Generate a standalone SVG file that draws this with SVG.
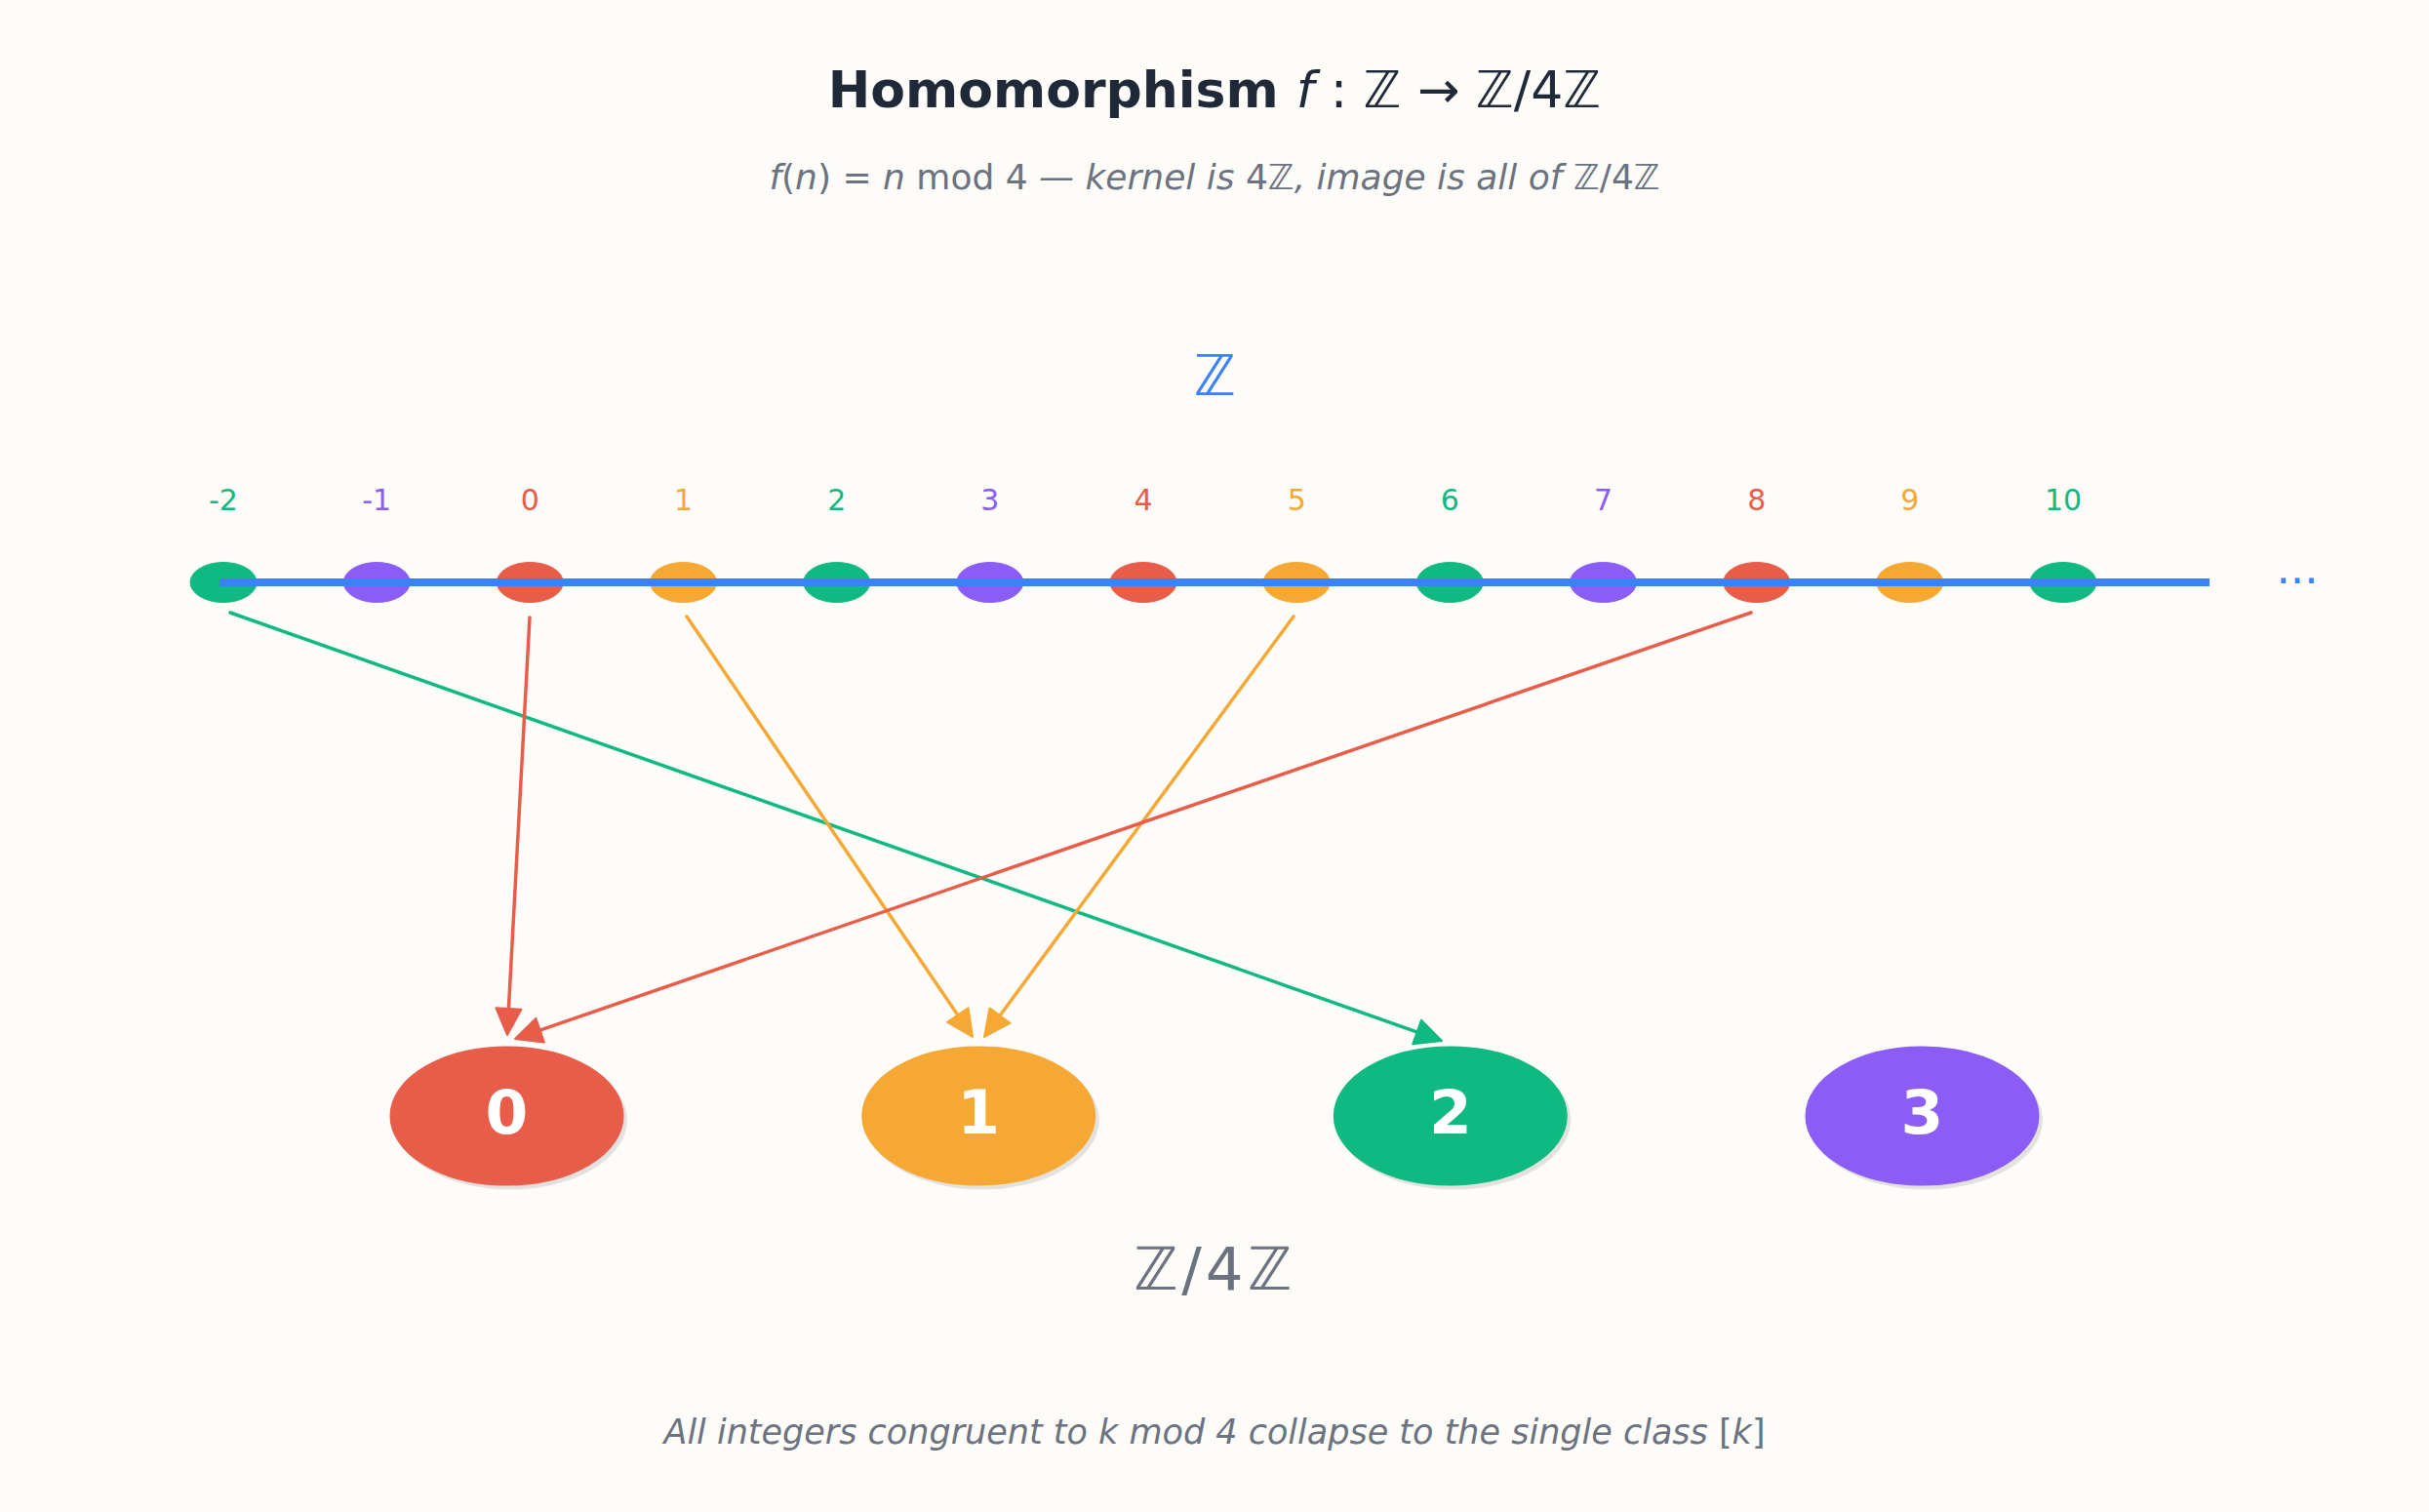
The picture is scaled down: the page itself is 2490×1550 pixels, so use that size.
<svg xmlns="http://www.w3.org/2000/svg" width="2490" height="1550" viewBox="0 0 2490 1550">
<style>
text{font-family:"DejaVu Sans","Liberation Sans",sans-serif}
.it{font-style:italic}
.num{font-size:30px;text-anchor:middle}
.dot{stroke:none}
.node-shadow{fill:#000;opacity:0.1}
.node-body{stroke:#ffffff;stroke-width:5}
.node-label{font-size:63px;font-weight:bold;fill:#ffffff;text-anchor:middle}
.conn{fill:none;stroke-width:3.5;stroke-linecap:round}
.red{fill:#e85d4a;stroke:#e85d4a}
.orange{fill:#f5a834;stroke:#f5a834}
.green{fill:#10b981;stroke:#10b981}
.purple{fill:#8b5cf6;stroke:#8b5cf6}
</style>
<defs>
<marker id="ah-red" viewBox="-2 -16 32 32" refX="17" refY="0" markerWidth="32" markerHeight="32" markerUnits="userSpaceOnUse" orient="auto" overflow="visible"><path d="M0,-13 L27,0 L0,13 Z" fill="#e85d4a" stroke="#e85d4a" stroke-width="2" stroke-linejoin="round"/></marker>
<marker id="ah-orange" viewBox="-2 -16 32 32" refX="17" refY="0" markerWidth="32" markerHeight="32" markerUnits="userSpaceOnUse" orient="auto" overflow="visible"><path d="M0,-13 L27,0 L0,13 Z" fill="#f5a834" stroke="#f5a834" stroke-width="2" stroke-linejoin="round"/></marker>
<marker id="ah-green" viewBox="-2 -16 32 32" refX="17" refY="0" markerWidth="32" markerHeight="32" markerUnits="userSpaceOnUse" orient="auto" overflow="visible"><path d="M0,-13 L27,0 L0,13 Z" fill="#10b981" stroke="#10b981" stroke-width="2" stroke-linejoin="round"/></marker>
</defs>
<rect width="2490" height="1550" fill="#fdfcf9"/>

<g id="title">
<text x="1245" y="110" text-anchor="middle" font-size="52" fill="#1f2937"><tspan font-weight="bold">Homomorphism </tspan><tspan class="it">f</tspan><tspan> : ℤ → ℤ/4ℤ</tspan></text>
<text x="1245" y="194" text-anchor="middle" font-size="36" fill="#6b7280"><tspan class="it">f</tspan>(<tspan class="it">n</tspan>) = <tspan class="it">n</tspan> mod 4<tspan class="it"> — kernel is </tspan>4ℤ<tspan class="it">, image is all of </tspan>ℤ/4ℤ</text>
</g>

<g id="label-Z"><text x="1245" y="405" text-anchor="middle" font-size="58" fill="#3b82f6">ℤ</text></g>

<g id="integers">
<g id="int-m2"><ellipse class="dot green" cx="229" cy="597" rx="34" ry="20.5"/><text class="num" x="229" y="523" fill="#10b981">-2</text></g>
<g id="int-m1"><ellipse class="dot purple" cx="386.2" cy="597" rx="34" ry="20.5"/><text class="num" x="386.2" y="523" fill="#8b5cf6">-1</text></g>
<g id="int-0"><ellipse class="dot red" cx="543.3" cy="597" rx="34" ry="20.5"/><text class="num" x="543.3" y="523" fill="#e85d4a">0</text></g>
<g id="int-1"><ellipse class="dot orange" cx="700.5" cy="597" rx="34" ry="20.5"/><text class="num" x="700.5" y="523" fill="#f5a834">1</text></g>
<g id="int-2"><ellipse class="dot green" cx="857.7" cy="597" rx="34" ry="20.5"/><text class="num" x="857.7" y="523" fill="#10b981">2</text></g>
<g id="int-3"><ellipse class="dot purple" cx="1014.8" cy="597" rx="34" ry="20.5"/><text class="num" x="1014.8" y="523" fill="#8b5cf6">3</text></g>
<g id="int-4"><ellipse class="dot red" cx="1172" cy="597" rx="34" ry="20.5"/><text class="num" x="1172" y="523" fill="#e85d4a">4</text></g>
<g id="int-5"><ellipse class="dot orange" cx="1329.2" cy="597" rx="34" ry="20.5"/><text class="num" x="1329.2" y="523" fill="#f5a834">5</text></g>
<g id="int-6"><ellipse class="dot green" cx="1486.3" cy="597" rx="34" ry="20.5"/><text class="num" x="1486.3" y="523" fill="#10b981">6</text></g>
<g id="int-7"><ellipse class="dot purple" cx="1643.5" cy="597" rx="34" ry="20.5"/><text class="num" x="1643.5" y="523" fill="#8b5cf6">7</text></g>
<g id="int-8"><ellipse class="dot red" cx="1800.7" cy="597" rx="34" ry="20.5"/><text class="num" x="1800.7" y="523" fill="#e85d4a">8</text></g>
<g id="int-9"><ellipse class="dot orange" cx="1957.8" cy="597" rx="34" ry="20.5"/><text class="num" x="1957.8" y="523" fill="#f5a834">9</text></g>
<g id="int-10"><ellipse class="dot green" cx="2115" cy="597" rx="34" ry="20.5"/><text class="num" x="2115" y="523" fill="#10b981">10</text></g>
</g>

<g id="number-line">
<line x1="225" y1="597" x2="2265" y2="597" stroke="#3b82f6" stroke-width="8"/>
<text x="2355" y="598" text-anchor="middle" font-size="45" fill="#3b82f6">...</text>
</g>

<g id="connectors">
<line class="conn" stroke="#10b981" x1="236" y1="628" x2="1468.6" y2="1063.7" marker-end="url(#ah-green)"/>
<line class="conn" stroke="#e85d4a" x1="543" y1="633" x2="520.5" y2="1051" marker-end="url(#ah-red)"/>
<line class="conn" stroke="#f5a834" x1="704" y1="632" x2="991.4" y2="1054.7" marker-end="url(#ah-orange)"/>
<line class="conn" stroke="#f5a834" x1="1326" y1="632" x2="1014.9" y2="1054.9" marker-end="url(#ah-orange)"/>
<line class="conn" stroke="#e85d4a" x1="1795" y1="628" x2="537.5" y2="1061.7" marker-end="url(#ah-red)"/>
</g>

<g id="class-0"><ellipse class="node-shadow" cx="523" cy="1148" rx="120" ry="71.5"/><ellipse class="node-body red" stroke="#ffffff" cx="519.5" cy="1144" rx="117.5" ry="69"/><text class="node-label" x="519.5" y="1162">0</text></g>
<g id="class-1"><ellipse class="node-shadow" cx="1006.7" cy="1148" rx="120" ry="71.5"/><ellipse class="node-body orange" stroke="#ffffff" cx="1003.2" cy="1144" rx="117.5" ry="69"/><text class="node-label" x="1003.2" y="1162">1</text></g>
<g id="class-2"><ellipse class="node-shadow" cx="1490.3" cy="1148" rx="120" ry="71.5"/><ellipse class="node-body green" stroke="#ffffff" cx="1486.8" cy="1144" rx="117.5" ry="69"/><text class="node-label" x="1486.8" y="1162">2</text></g>
<g id="class-3"><ellipse class="node-shadow" cx="1974" cy="1148" rx="120" ry="71.5"/><ellipse class="node-body purple" stroke="#ffffff" cx="1970.5" cy="1144" rx="117.5" ry="69"/><text class="node-label" x="1970.5" y="1162">3</text></g>

<g id="label-Z4Z"><text x="1245" y="1322" text-anchor="middle" font-size="61" letter-spacing="4" fill="#6b7280">ℤ/4ℤ</text></g>

<g id="caption"><text x="1245" y="1480" text-anchor="middle" font-size="35" fill="#6b7280"><tspan class="it">All integers congruent to k mod 4 collapse to the single class </tspan>[<tspan class="it">k</tspan>]</text></g>
</svg>
